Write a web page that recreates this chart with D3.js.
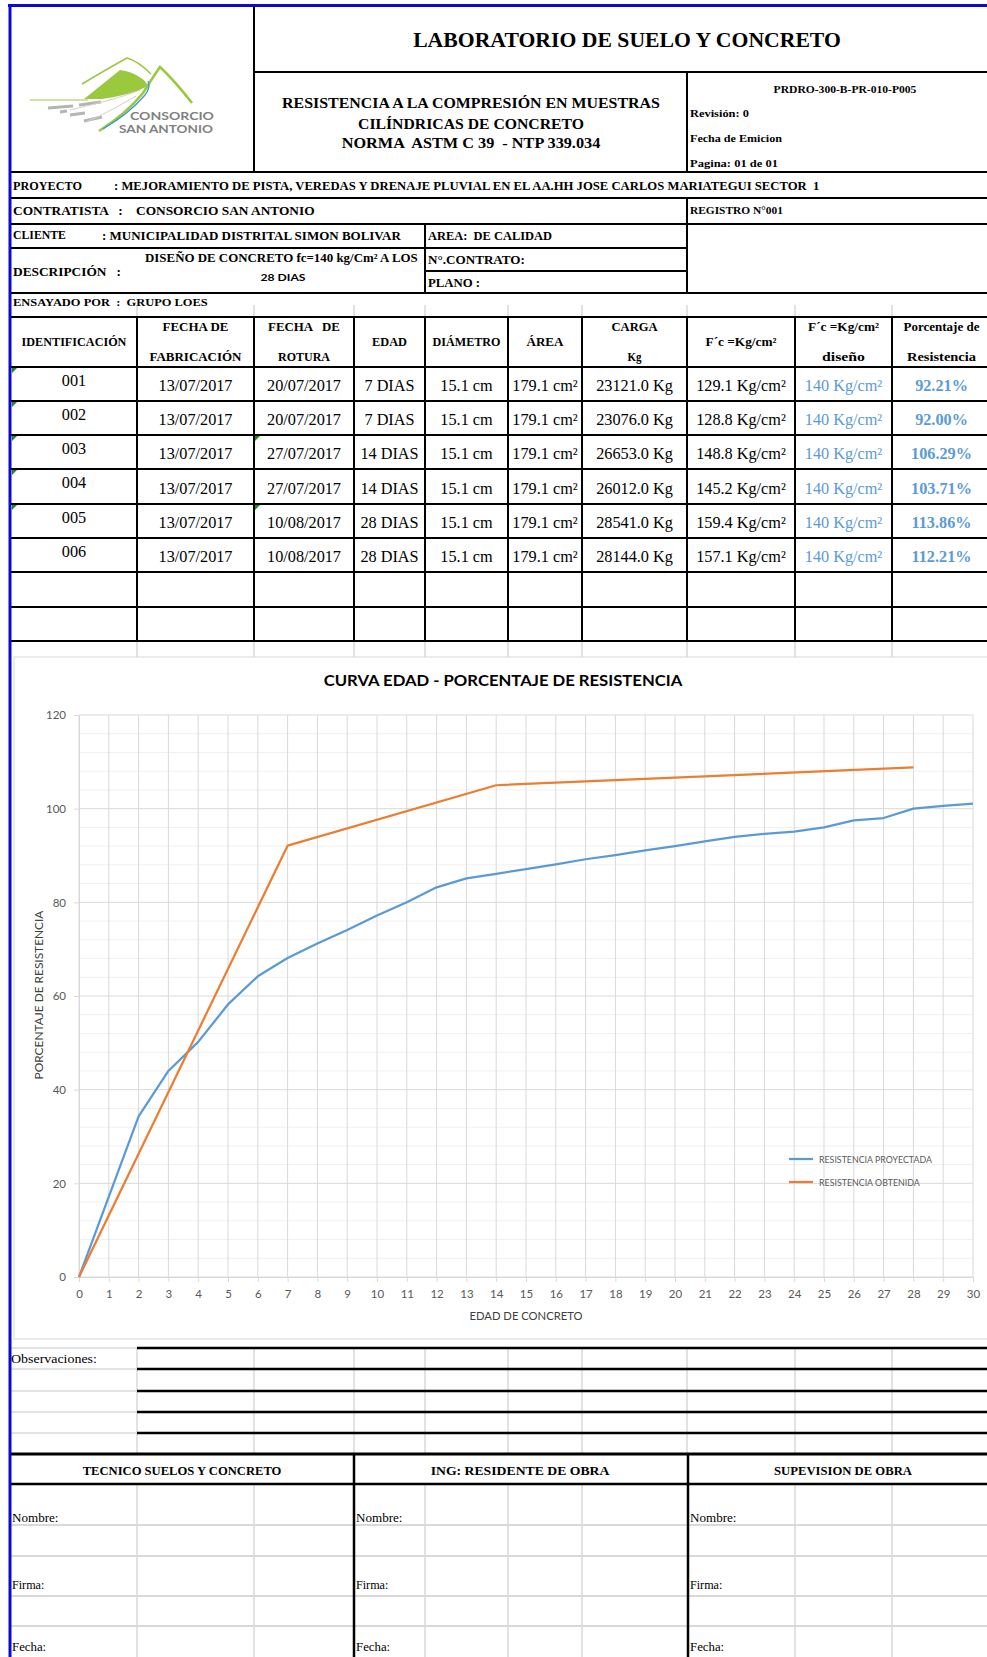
<!DOCTYPE html>
<html><head><meta charset="utf-8">
<script src="https://cdn.jsdelivr.net/npm/d3@7"></script>
<style>body{margin:0;background:#fff}svg{display:block}text{white-space:pre}</style>
</head><body><svg id="c" width="987" height="1657"></svg>
<script>
// ---------------- DATA ----------------
const ids = ["001","002","003","004","005","006"];
const fechaFab = ["13/07/2017","13/07/2017","13/07/2017","13/07/2017","13/07/2017","13/07/2017"];
const fechaRot = ["20/07/2017","20/07/2017","27/07/2017","27/07/2017","10/08/2017","10/08/2017"];
const edad = ["7 DIAS","7 DIAS","14 DIAS","14 DIAS","28 DIAS","28 DIAS"];
const diametro = ["15.1 cm","15.1 cm","15.1 cm","15.1 cm","15.1 cm","15.1 cm"];
const area = ["179.1 cm²","179.1 cm²","179.1 cm²","179.1 cm²","179.1 cm²","179.1 cm²"];
const carga = ["23121.0 Kg","23076.0 Kg","26653.0 Kg","26012.0 Kg","28541.0 Kg","28144.0 Kg"];
const fcObt = ["129.1 Kg/cm²","128.8 Kg/cm²","148.8 Kg/cm²","145.2 Kg/cm²","159.4 Kg/cm²","157.1 Kg/cm²"];
const fcDis = ["140 Kg/cm²","140 Kg/cm²","140 Kg/cm²","140 Kg/cm²","140 Kg/cm²","140 Kg/cm²"];
const porcentaje = ["92.21%","92.00%","106.29%","103.71%","113.86%","112.21%"];

const projDays = [0,2,3,4,5,6,7,8,9,10,11,12,13,14,15,16,17,18,19,20,21,22,23,24,25,26,27,28,29,30];
const projPct  = [0,34.3,44,50.2,58.2,64.2,68.1,71.2,74.1,77.2,80,83.2,85.1,86.1,87.1,88.1,89.2,90.1,91.1,92,93,94,94.6,95.1,96,97.5,98,100,100.6,101.1];
const obtDays = [0,7,14,28];
const obtPct  = [0,92.1,105.0,108.8];
const seriesNames = ["RESISTENCIA PROYECTADA","RESISTENCIA OBTENIDA"];
const xTicks = [0,1,2,3,4,5,6,7,8,9,10,11,12,13,14,15,16,17,18,19,20,21,22,23,24,25,26,27,28,29,30];
const yTicks = [0,20,40,60,80,100,120];
const yMinor = [4,8,12,16,24,28,32,36,44,48,52,56,64,68,72,76,84,88,92,96,104,108,112,116];

// ---------------- LAYOUT ----------------
const W = 987, H = 1657;
const colX = [11,137,254,354,425,508,582,687,795,892,987];
const rowY = [367,401,435,469,504,538,572,607,641];
const SERIF = "'Liberation Serif','Times New Roman',serif";
const SANS = "Lato,'Open Sans',sans-serif";
const BLUE = "#5b9bd5", ORANGE = "#ed7d31", GRID = "#d9d9d9";

const svg = d3.select('#c');
svg.append('rect').attr('width', W).attr('height', H).attr('fill', '#fff');

function T(x, y, s, o = {}) {
  const g = svg.append('g');
  const t = g.append('text').text(s)
    .attr('xml:space', 'preserve')
    .attr('font-family', o.ff || SERIF)
    .attr('font-size', o.fs || 12)
    .attr('font-weight', o.fw || 'normal')
    .attr('fill', o.fill || '#000')
    .attr('text-anchor', o.anchor || 'start')
    .attr('dominant-baseline', 'central');
  let sx = o.sx || 1;
  if (o.w) sx = o.w / t.node().getComputedTextLength();
  g.attr('transform', `translate(${x},${y})` + (o.rot ? ` rotate(${o.rot})` : ''));
  t.attr('transform', `scale(${sx},1)`);
  return t;
}
function L(x1, y1, x2, y2, c = '#000', w = 2) {
  svg.append('line').attr('x1', x1).attr('y1', y1).attr('x2', x2).attr('y2', y2)
    .attr('stroke', c).attr('stroke-width', w);
}

// ---------------- SPREADSHEET LIGHT GRID ----------------
colX.slice(1, -1).forEach(x => { L(x, 305, x, 317, GRID, 1.5); L(x, 641, x, 657, GRID, 1.5); });

// ---------------- HEADER ----------------
L(254, 5, 254, 172); L(254, 72, W, 72); L(687, 72, 687, 172);
L(11, 172, W, 172); L(11, 198, W, 198); L(11, 224, W, 224);
L(687, 198, 687, 293); L(425, 224, 425, 293);
L(11, 248, 687, 248); L(425, 271, 687, 271); L(11, 293, W, 293);

// logo
const lg = svg.append('g');
lg.append('path').attr('d', 'M48,108 L73,106 M79,105 L101,102 M70,115 L85,113 M84,121 L102,117 M60,112 L67,111')
  .attr('stroke', '#b5b5b5').attr('stroke-width', 3.2).attr('fill', 'none');
lg.append('path').attr('d', 'M70,110 C95,104 120,98 140,90 M86,122 C105,114 122,104 136,96')
  .attr('stroke', '#d0d0d0').attr('stroke-width', 1).attr('fill', 'none');
lg.append('path').attr('d', 'M30,100 L88,100')
  .attr('stroke', '#9bc93e').attr('stroke-width', 1.2).attr('fill', 'none');
lg.append('path').attr('d', 'M84,99 L120,70 Q131,71 141,78 Q149,83 146,87 Q130,95 102,99 Z')
  .attr('fill', '#9bc93e');
lg.append('path').attr('d', 'M82,84 Q107,69 127,58 Q138,61 151,74')
  .attr('stroke', '#9bc93e').attr('stroke-width', 1.5).attr('fill', 'none');
lg.append('path').attr('d', 'M99,131 Q127,113 143,93 Q153,77 160,67 Q174,80 192,103')
  .attr('stroke', '#9bc93e').attr('stroke-width', 2.6).attr('fill', 'none');
lg.append('path').attr('d', 'M103,129 Q130,113 145,95 Q151,87 148,81')
  .attr('stroke', '#3a9ad9').attr('stroke-width', 1.3).attr('fill', 'none');
T(130, 116, 'CONSORCIO', { ff: SANS, fs: 10.5, fw: 'bold', fill: '#808080', w: 84 });
T(119, 129, 'SAN ANTONIO', { ff: SANS, fs: 10.5, fw: 'bold', fill: '#808080', w: 94 });

T(627, 40, 'LABORATORIO DE SUELO Y CONCRETO', { fs: 22, fw: 'bold', anchor: 'middle', w: 428 });
T(471, 103, 'RESISTENCIA A LA COMPRESIÓN EN MUESTRAS', { fs: 15, fw: 'bold', anchor: 'middle', w: 378 });
T(471, 123.5, 'CILÍNDRICAS DE CONCRETO', { fs: 15, fw: 'bold', anchor: 'middle', w: 226 });
T(471, 142.5, 'NORMA  ASTM C 39  - NTP 339.034', { fs: 15, fw: 'bold', anchor: 'middle', w: 259 });
T(845, 89, 'PRDRO-300-B-PR-010-P005', { fs: 10, fw: 'bold', anchor: 'middle', w: 143 });
T(690, 114, 'Revisión: 0', { fs: 9.5, fw: 'bold', w: 59 });
T(690, 139, 'Fecha de Emicion', { fs: 9.5, fw: 'bold', w: 92 });
T(690, 164, 'Pagina: 01 de 01', { fs: 9.5, fw: 'bold', w: 88 });

T(13, 186, 'PROYECTO', { fs: 11.5, fw: 'bold', w: 69 });
T(114, 186, ': MEJORAMIENTO DE PISTA, VEREDAS Y DRENAJE PLUVIAL EN EL AA.HH JOSE CARLOS MARIATEGUI SECTOR  1', { fs: 11.5, fw: 'bold', w: 706 });
T(13, 211, 'CONTRATISTA   :    CONSORCIO SAN ANTONIO', { fs: 11.5, fw: 'bold', w: 302 });
T(690, 211, 'REGISTRO N°001', { fs: 9.5, fw: 'bold', w: 93 });
T(13, 236, 'CLIENTE', { fs: 11.5, fw: 'bold', w: 53 });
T(102, 236, ': MUNICIPALIDAD DISTRITAL SIMON BOLIVAR', { fs: 11.5, fw: 'bold', w: 299 });
T(428, 236, 'AREA:  DE CALIDAD', { fs: 11.5, fw: 'bold', w: 124 });
T(145, 258, 'DISEÑO DE CONCRETO fc=140 kg/Cm² A LOS', { fs: 11.5, fw: 'bold', w: 273 });
T(283, 277, '28 DIAS', { ff: SANS, fs: 10, fw: 'bold', anchor: 'middle', w: 45 });
T(13, 272, 'DESCRIPCIÓN   :', { fs: 11.5, fw: 'bold', w: 108 });
T(428, 260, 'N°.CONTRATO:', { fs: 11.5, fw: 'bold', w: 97 });
T(428, 283, 'PLANO :', { fs: 11.5, fw: 'bold', w: 52 });
T(13, 302, 'ENSAYADO POR  :  GRUPO LOES', { fs: 10, fw: 'bold', w: 195 });

// ---------------- TABLE ----------------
const headers = [
  [['IDENTIFICACIÓN', 105]],
  [['FECHA DE', 66], ['FABRICACIÓN', 92]],
  [['FECHA   DE', 72], ['ROTURA', 52]],
  [['EDAD', 35]],
  [['DIÁMETRO', 68]],
  [['ÁREA', 37]],
  [['CARGA', 46], ['Kg', 14]],
  [['F´c =Kg/cm²', 71]],
  [['F´c =Kg/cm²', 71], ['diseño', 43]],
  [['Porcentaje de', 76], ['Resistencia', 69]]
];
headers.forEach((h, i) => {
  const cx = (colX[i] + colX[i + 1]) / 2 + (i === 9 ? 2 : 0);
  if (h.length === 1) T(cx, 342, h[0][0], { fs: 12, fw: 'bold', anchor: 'middle', w: h[0][1] });
  else {
    T(cx, 327, h[0][0], { fs: 12, fw: 'bold', anchor: 'middle', w: h[0][1] });
    T(cx, 357, h[1][0], { fs: 12, fw: 'bold', anchor: 'middle', w: h[1][1] });
  }
});

// calibrate data text condensing
const probe = svg.append('text').text('13/07/2017').attr('font-family', SERIF).attr('font-size', 16);
const dsx = 74 / probe.node().getComputedTextLength();
probe.remove();

const cols = [fechaFab, fechaRot, edad, diametro, area, carga, fcObt, fcDis, porcentaje];
ids.forEach((id, r) => {
  const y0 = rowY[r], y1 = rowY[r + 1];
  T((colX[0] + colX[1]) / 2, y0 + 14, id, { fs: 16, anchor: 'middle', sx: dsx });
  cols.forEach((arr, c) => {
    const ci = c + 1;
    const cx = (colX[ci] + colX[ci + 1]) / 2 + (ci === 9 ? 2 : 0);
    const opt = { fs: 16, anchor: 'middle', sx: dsx };
    if (ci === 8) opt.fill = BLUE;
    if (ci === 9) { opt.fill = BLUE; opt.fw = 'bold'; }
    T(cx, (y0 + y1) / 2 + 2, arr[r], opt);
  });
});
// green error indicators
const tri = [[0, 0], [0, 1], [0, 2], [0, 3], [0, 4], [2, 2], [2, 4]];
tri.forEach(([c, r]) => {
  const x = colX[c] + 1, y = rowY[r] + 1;
  svg.append('path').attr('d', `M${x},${y} L${x + 5},${y} L${x},${y + 5} Z`).attr('fill', '#1e8c1e');
});
colX.slice(1, -1).forEach(x => L(x, 317, x, 641));
rowY.forEach(y => L(11, y, W, y));
L(11, 317, W, 317);

// ---------------- CHART ----------------
svg.append('rect').attr('x', 14).attr('y', 657).attr('width', 990).attr('height', 682)
  .attr('fill', '#fff').attr('stroke', GRID).attr('stroke-width', 1);
const x = d3.scaleLinear().domain([0, 30]).range([79, 973]);
const y = d3.scaleLinear().domain([0, 120]).range([1277, 715]);

const grid = svg.append('g');
grid.selectAll('.mi').data(yMinor).join('line')
  .attr('x1', x(0)).attr('x2', x(30)).attr('y1', d => y(d)).attr('y2', d => y(d))
  .attr('stroke', '#f0f0f0').attr('stroke-width', 1);
grid.selectAll('.mj').data(yTicks).join('line')
  .attr('x1', x(0)).attr('x2', x(30)).attr('y1', d => y(d)).attr('y2', d => y(d))
  .attr('stroke', GRID).attr('stroke-width', 1);
grid.selectAll('.vx').data(xTicks).join('line')
  .attr('x1', d => x(d)).attr('x2', d => x(d)).attr('y1', y(0)).attr('y2', y(120))
  .attr('stroke', GRID).attr('stroke-width', 1);

const ya = svg.append('g').attr('transform', `translate(${x(0)},0)`)
  .call(d3.axisLeft(y).tickValues(yTicks).tickSize(5).tickPadding(8));
const xa = svg.append('g').attr('transform', `translate(0,${y(0)})`)
  .call(d3.axisBottom(x).tickValues(xTicks).tickSize(5).tickPadding(8));
[ya, xa].forEach(a => {
  a.select('.domain').attr('stroke', GRID);
  a.selectAll('.tick line').attr('stroke', GRID);
  a.selectAll('text').attr('font-family', SANS).attr('font-size', 11.5).attr('fill', '#595959');
});

const line = d3.line().x(d => x(d[0])).y(d => y(d[1]));
svg.append('path').datum(projDays.map((d, i) => [d, projPct[i]])).attr('d', line)
  .attr('fill', 'none').attr('stroke', BLUE).attr('stroke-width', 2.25).attr('stroke-linejoin', 'round');
svg.append('path').datum(obtDays.map((d, i) => [d, obtPct[i]])).attr('d', line)
  .attr('fill', 'none').attr('stroke', ORANGE).attr('stroke-width', 2.25).attr('stroke-linejoin', 'round');

T(503, 680, 'CURVA EDAD - PORCENTAJE DE RESISTENCIA', { ff: SANS, fs: 16, fw: 'bold', anchor: 'middle', w: 359, fill: '#000' });
T(526, 1315, 'EDAD DE CONCRETO', { ff: SANS, fs: 11.5, anchor: 'middle', w: 113, fill: '#404040' });
T(38, 995, 'PORCENTAJE DE RESISTENCIA', { ff: SANS, fs: 11.5, anchor: 'middle', w: 169, rot: -90, fill: '#404040' });

const legY = [1159, 1182];
[BLUE, ORANGE].forEach((c, i) => {
  L(789, legY[i], 813, legY[i], c, 2.25);
  T(819, legY[i], seriesNames[i], { ff: SANS, fs: 9, fill: '#595959', w: i === 0 ? 113 : 101 });
});

// ---------------- OBSERVACIONES ----------------
const obsY = [1348, 1369, 1391, 1412, 1433, 1454];
colX.slice(1, -1).forEach(xx => L(xx, 1348, xx, 1454, GRID, 1.5));
obsY.slice(0, -1).forEach(yy => { L(11, yy, 137, yy, GRID, 1.5); L(137, yy, W, yy, '#000', 2.5); });
L(11, 1454, W, 1454, '#000', 3);
T(11, 1359, 'Observaciones:', { fs: 13, w: 86 });

// ---------------- FIRMAS ----------------
[137, 254, 425, 508, 582, 795, 892].forEach(xx => L(xx, 1484, xx, H, GRID, 1.5));
[1525, 1556, 1596, 1626].forEach(yy => L(11, yy, W, yy, GRID, 2));
L(11, 1484, W, 1484, '#000', 2.5);
L(354, 1454, 354, H, '#000', 2.5); L(688, 1454, 688, H, '#000', 2.5);
T(182, 1471, 'TECNICO SUELOS Y CONCRETO', { fs: 12, fw: 'bold', anchor: 'middle', w: 199 });
T(520, 1471, 'ING: RESIDENTE DE OBRA', { fs: 12, fw: 'bold', anchor: 'middle', w: 179 });
T(843, 1471, 'SUPEVISION DE OBRA', { fs: 12, fw: 'bold', anchor: 'middle', w: 138 });
[12, 356, 690].forEach(xx => {
  T(xx, 1517, 'Nombre:', { fs: 13.5, sx: 0.97 });
  T(xx, 1585, 'Firma:', { fs: 13.5, sx: 0.9 });
  T(xx, 1646, 'Fecha:', { fs: 13.5, sx: 0.95 });
});

// ---------------- PAGE BORDER ----------------
L(8, 5.5, W, 5.5, '#0a0ad0', 3);
L(10, 4, 10, H, '#0a0ad0', 3);
</script></body></html>
